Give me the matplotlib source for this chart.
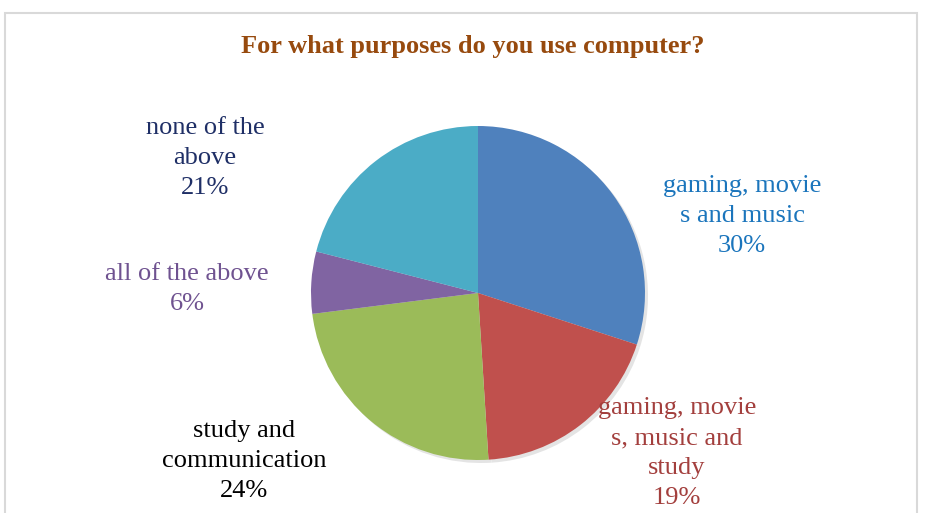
import matplotlib.pyplot as plt
from matplotlib.patches import Rectangle

# Survey answers and their shares (percent)
labels = ['gaming, movie\ns and music', 'gaming, movie\ns, music and\nstudy',
          'study and\ncommunication', 'all of the above', 'none of the\nabove']
shares = [30, 19, 24, 6, 21]
colors = ['#4F81BD', '#C0504D', '#9BBB59', '#8064A2', '#4BACC6']
text_colors = ['#1B75BC', '#A33F3D', '#000000', '#6F5290', '#1F2F66']
# label anchor points (pixels from top-left)
label_pos = [(742, 216), (677, 453), (244, 461), (187, 289), (205, 158)]

W, H = 933, 513
fig = plt.figure(figsize=(W / 100, H / 100), dpi=100)
ax = fig.add_axes([0, 0, 1, 1])
ax.set_xlim(0, W)
ax.set_ylim(0, H)
ax.set_aspect('equal')
ax.axis('off')

# chart frame
ax.add_patch(Rectangle((5, -20), 912, H - 13 + 20, fill=False,
                       edgecolor='#D9D9D9', linewidth=1.5))

cx, cy, r = 478, H - 293, 167
# soft shadow under the pie
ax.pie(shares, center=(cx + 3, cy - 3), radius=r, startangle=90, counterclock=False,
       colors=['#E4E4E4'] * len(shares), wedgeprops=dict(linewidth=0))
ax.pie(shares, center=(cx, cy), radius=r, startangle=90, counterclock=False,
       colors=colors, wedgeprops=dict(linewidth=0))
ax.set_xlim(0, W)
ax.set_ylim(0, H)

for lab, val, col, (x, y) in zip(labels, shares, text_colors, label_pos):
    ax.text(x, H - y, f'{lab}\n{val}%', ha='center', va='center', color=col,
            fontsize=19, family='Liberation Serif', linespacing=1.47)

ax.text(473, H - 46, 'For what purposes do you use computer?', ha='center', va='center',
        color='#974A0E', fontsize=19, fontweight='bold', family='Liberation Serif')

fig.savefig('out.png', dpi=100)
